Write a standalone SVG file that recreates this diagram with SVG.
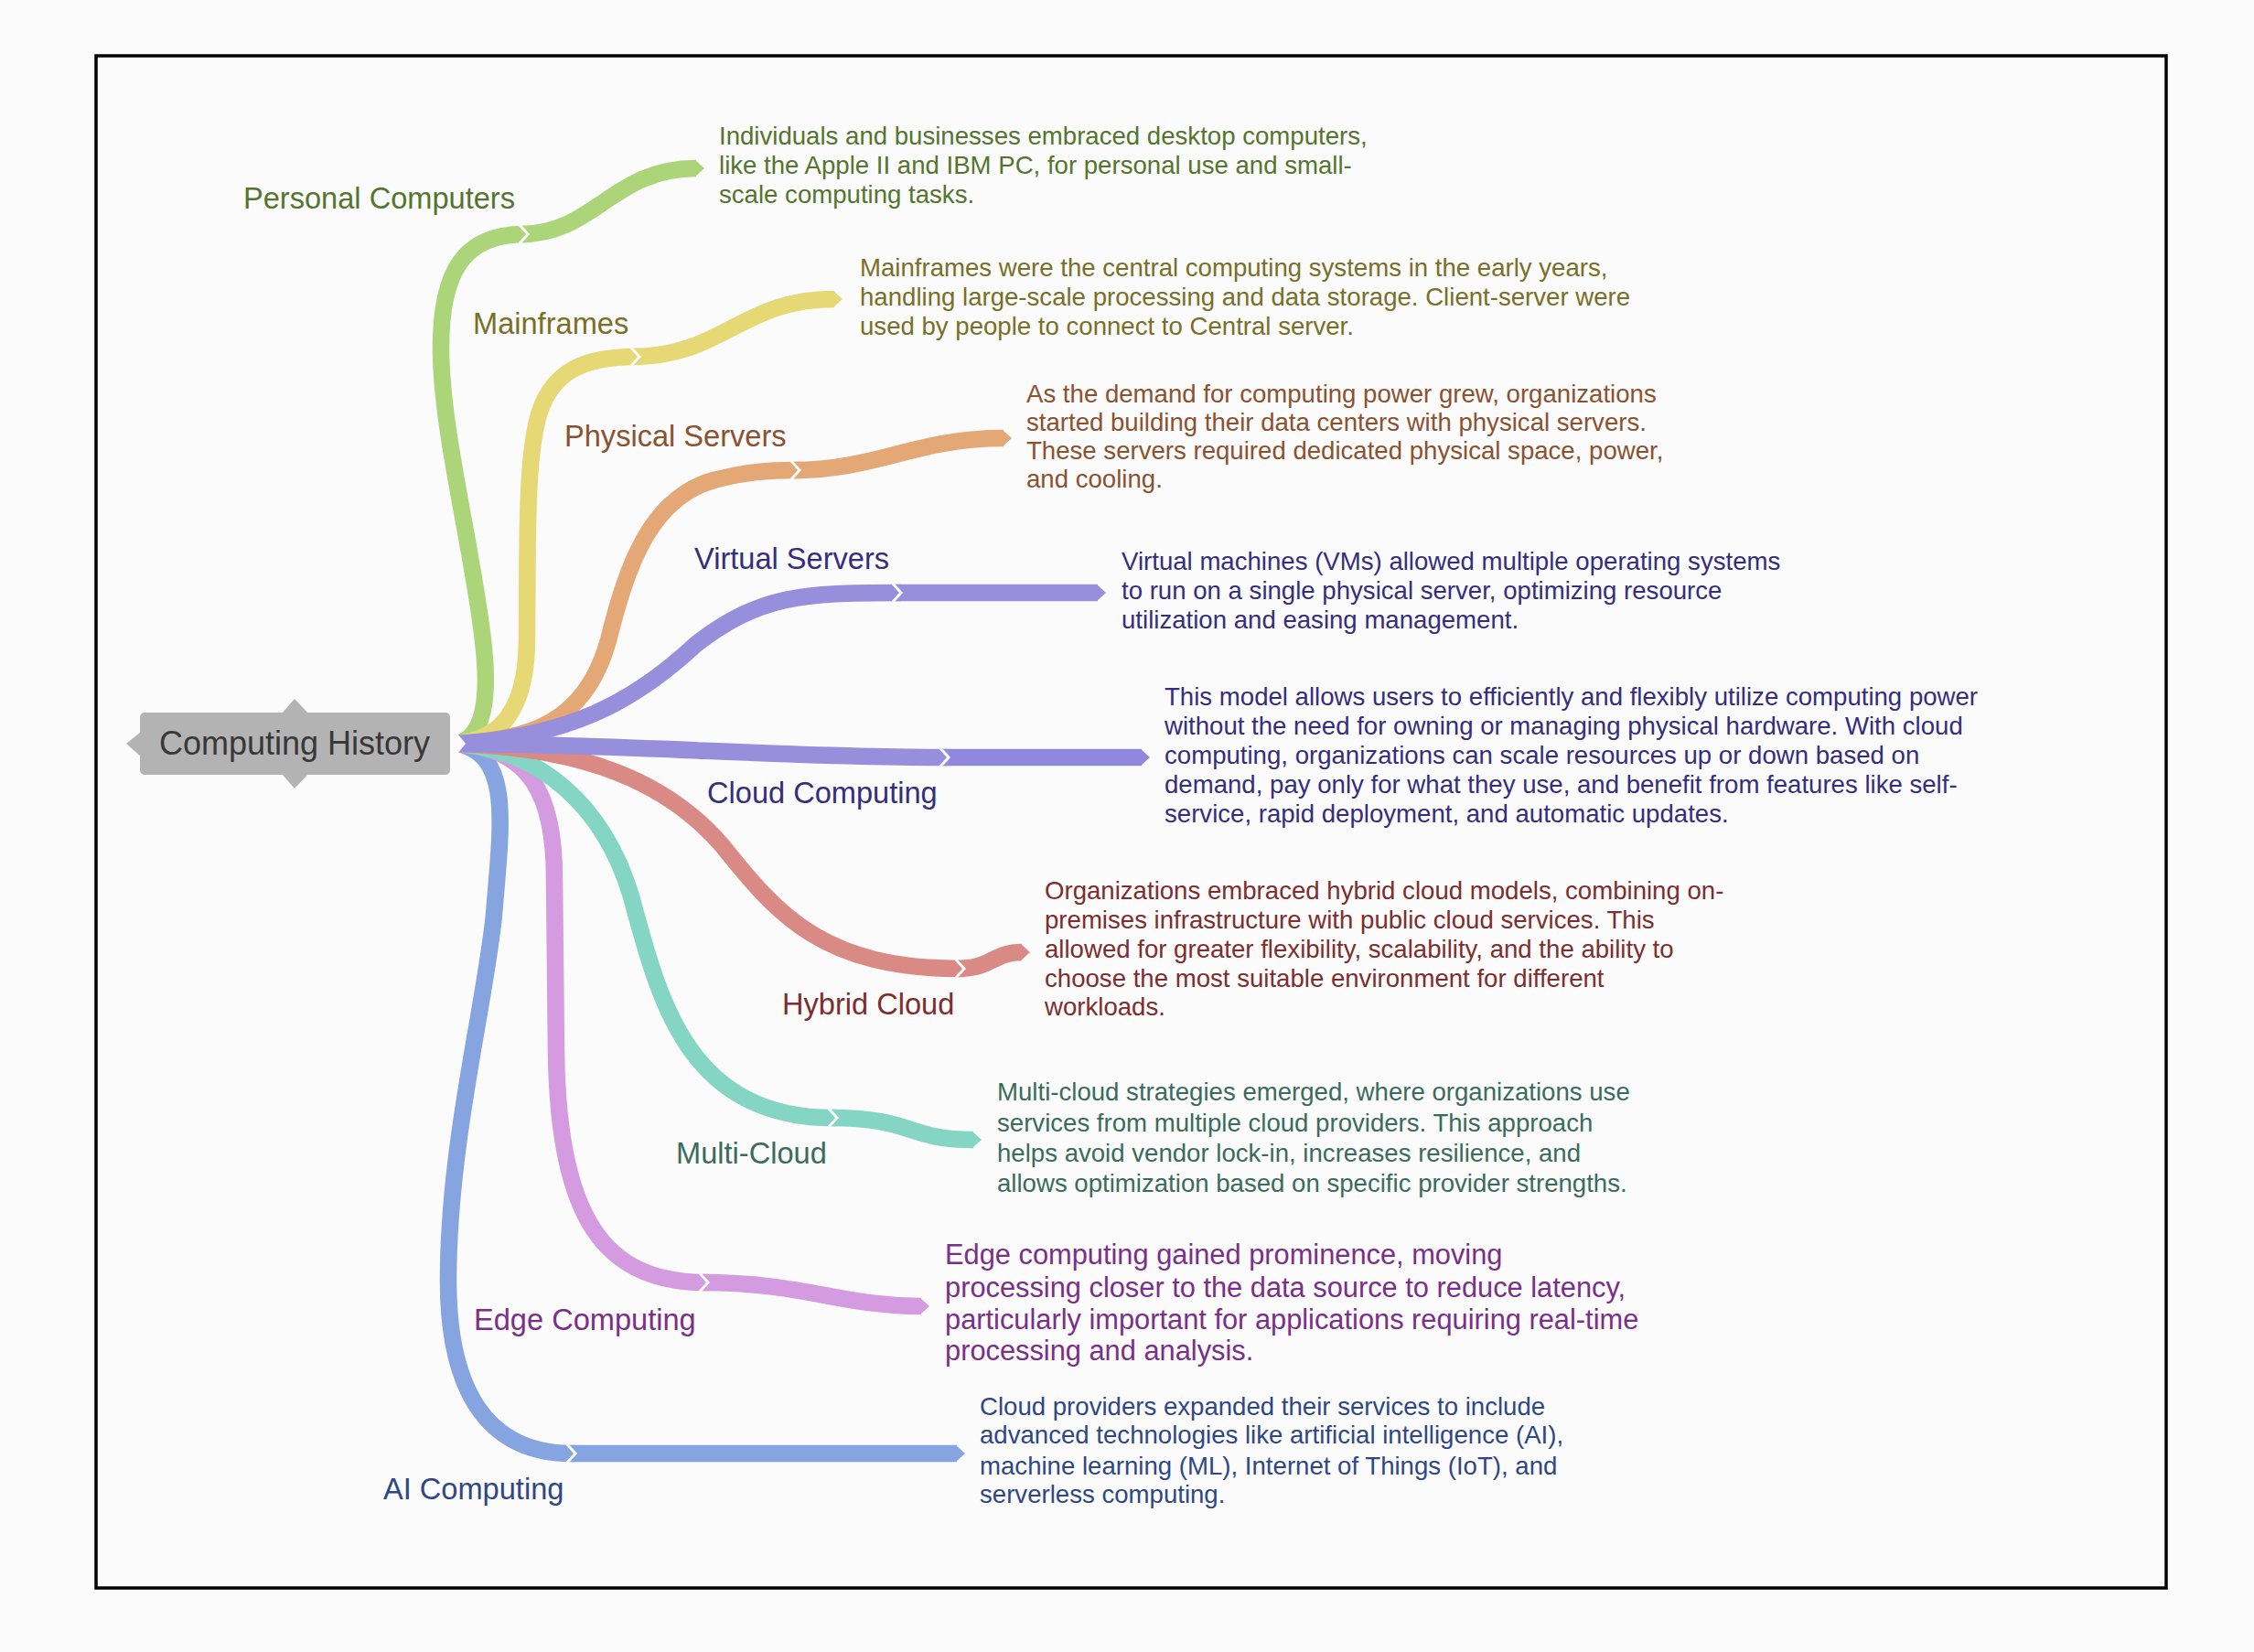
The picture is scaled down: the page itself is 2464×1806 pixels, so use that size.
<svg xmlns="http://www.w3.org/2000/svg" width="2464" height="1806" viewBox="0 0 2464 1806">
<style>
.br{fill:none;stroke-width:18.5;stroke-linecap:butt;stroke-linejoin:round}
.jn{fill:none;stroke:#fbfbfb;stroke-width:3;stroke-linejoin:miter}
.lbl{font-family:"Liberation Sans",Arial,sans-serif;font-size:32.6px}
.dsc{font-family:"Liberation Sans",Arial,sans-serif;font-size:27.6px}
.big{font-family:"Liberation Sans",Arial,sans-serif;font-size:30.8px}
</style>
<rect x="0" y="0" width="2464" height="1806" fill="#fbfbfb"/>
<rect x="105" y="61" width="2263" height="1675" fill="none" stroke="#000" stroke-width="3.5"/>

<g id="connectors">
  <!-- Personal Computers -->
  <path class="br" stroke="#acd57a" d="M 569 256 C 650 256, 670 184, 761 184"/>
  <polygon fill="#acd57a" points="760,175 770,184 760,193"/>
  <path class="br" stroke="#acd57a" d="M 500 813 C 530 805, 535 760, 528 700 C 515 590, 482 470, 482 380 C 482 300, 505 256, 573 256 L 577 256"/>
  <polyline class="jn" points="568,246 577,256 568,266"/>
  <!-- Mainframes -->
  <path class="br" stroke="#e6d874" d="M 691 390 C 790 390, 810 327, 912 327"/>
  <polygon fill="#e6d874" points="911,318 921,327 911,336"/>
  <path class="br" stroke="#e6d874" d="M 500 813 C 545 808, 575 780, 576 700 C 577 600, 574 500, 590 450 C 605 405, 640 390, 695 390 L 699 390"/>
  <polyline class="jn" points="690,380 699,390 690,400"/>
  <!-- Physical Servers -->
  <path class="br" stroke="#e4a877" d="M 866 514 C 960 514, 1000 479, 1097 479"/>
  <polygon fill="#e4a877" points="1096,470 1106,479 1096,488"/>
  <path class="br" stroke="#e4a877" d="M 500 813 C 580 808, 640 790, 665 700 C 685 620, 710 545, 780 525 C 815 516, 840 514, 870 514 L 874 514"/>
  <polyline class="jn" points="865,504 874,514 865,524"/>
  <!-- AI Computing -->
  <path class="br" stroke="#85a4e0" d="M 621 1589 L 1046 1589"/>
  <polygon fill="#85a4e0" points="1045,1580 1055,1589 1045,1598"/>
  <path class="br" stroke="#85a4e0" d="M 500 813 C 560 825, 548 900, 540 1000 C 530 1100, 490 1250, 490 1400 C 490 1530, 540 1589, 625 1589 L 629 1589"/>
  <polyline class="jn" points="620,1579 629,1589 620,1599"/>
  <!-- Edge Computing -->
  <path class="br" stroke="#d59be0" d="M 766 1402 C 880 1402, 920 1428, 1007 1428"/>
  <polygon fill="#d59be0" points="1006,1419 1016,1428 1006,1437"/>
  <path class="br" stroke="#d59be0" d="M 500 813 C 580 818, 606 870, 606 960 L 608 1150 C 610 1330, 660 1402, 770 1402 L 774 1402"/>
  <polyline class="jn" points="765,1392 774,1402 765,1412"/>
  <!-- Multi-Cloud -->
  <path class="br" stroke="#84d5c3" d="M 907 1222 C 1000 1222, 990 1246, 1064 1246"/>
  <polygon fill="#84d5c3" points="1063,1237 1073,1246 1063,1255"/>
  <path class="br" stroke="#84d5c3" d="M 500 813 C 590 820, 660 880, 690 980 C 720 1090, 750 1222, 911 1222 L 915 1222"/>
  <polyline class="jn" points="906,1212 915,1222 906,1232"/>
  <!-- Hybrid Cloud -->
  <path class="br" stroke="#da8a84" d="M 1046 1059 C 1085 1059, 1085 1041, 1117 1041"/>
  <polygon fill="#da8a84" points="1116,1032 1126,1041 1116,1050"/>
  <path class="br" stroke="#da8a84" d="M 500 813 C 640 818, 730 855, 790 925 C 850 1000, 900 1059, 1050 1059 L 1054 1059"/>
  <polyline class="jn" points="1045,1049 1054,1059 1045,1069"/>
  <!-- Virtual Servers -->
  <path class="br" stroke="#978fdc" d="M 977 648 L 1200 648"/>
  <polygon fill="#978fdc" points="1199,639 1209,648 1199,657"/>
  <path class="br" stroke="#978fdc" d="M 500 813 C 620 805, 690 770, 760 705 C 830 650, 880 648, 981 648 L 985 648"/>
  <polyline class="jn" points="976,638 985,648 976,658"/>
  <!-- Cloud Computing -->
  <path class="br" stroke="#8f87db" d="M 1029 828 L 1248 828"/>
  <polygon fill="#8f87db" points="1247,819 1257,828 1247,837"/>
  <path class="br" stroke="#978fdc" d="M 500 813 C 700 814, 850 828, 1033 828 L 1037 828"/>
  <polyline class="jn" points="1028,818 1037,828 1028,838"/>
  <!-- root notch -->
  <polygon fill="#fbfbfb" points="496,797 509,813 496,829"/>
</g>

<g id="root">
  <rect x="153" y="779" width="339" height="68" rx="5" fill="#b3b3b3"/>
  <polygon fill="#b3b3b3" points="308,780 322,764 337,780"/>
  <polygon fill="#b3b3b3" points="308,846 322,862 337,846"/>
  <polygon fill="#b3b3b3" points="154,800 138,813 154,827"/>
  <text x="322" y="825" text-anchor="middle" font-family="Liberation Sans, Arial, sans-serif" font-size="36" fill="#383838">Computing History</text>
</g>

<g id="personal-computers" fill="#55752f">
  <text class="lbl" x="266" y="228">Personal Computers</text>
  <text class="dsc" x="786" y="158">Individuals and businesses embraced desktop computers,</text>
  <text class="dsc" x="786" y="190">like the Apple II and IBM PC, for personal use and small-</text>
  <text class="dsc" x="786" y="222">scale computing tasks.</text>
</g>

<g id="mainframes" fill="#7a6f27">
  <text class="lbl" x="517" y="365">Mainframes</text>
  <text class="dsc" x="940" y="302">Mainframes were the central computing systems in the early years,</text>
  <text class="dsc" x="940" y="334">handling large-scale processing and data storage. Client-server were</text>
  <text class="dsc" x="940" y="366">used by people to connect to Central server.</text>
</g>

<g id="physical-servers" fill="#8a5230">
  <text class="lbl" x="617" y="488">Physical Servers</text>
  <text class="dsc" x="1122" y="440">As the demand for computing power grew, organizations</text>
  <text class="dsc" x="1122" y="471">started building their data centers with physical servers.</text>
  <text class="dsc" x="1122" y="502">These servers required dedicated physical space, power,</text>
  <text class="dsc" x="1122" y="533">and cooling.</text>
</g>

<g id="virtual-servers" fill="#352e7c">
  <text class="lbl" x="759" y="622">Virtual Servers</text>
  <text class="dsc" x="1226" y="623">Virtual machines (VMs) allowed multiple operating systems</text>
  <text class="dsc" x="1226" y="655">to run on a single physical server, optimizing resource</text>
  <text class="dsc" x="1226" y="687">utilization and easing management.</text>
</g>

<g id="cloud-computing" fill="#352e7c">
  <text class="lbl" x="773" y="878">Cloud Computing</text>
  <text class="dsc" x="1273" y="771">This model allows users to efficiently and flexibly utilize computing power</text>
  <text class="dsc" x="1273" y="803">without the need for owning or managing physical hardware. With cloud</text>
  <text class="dsc" x="1273" y="835">computing, organizations can scale resources up or down based on</text>
  <text class="dsc" x="1273" y="867">demand, pay only for what they use, and benefit from features like self-</text>
  <text class="dsc" x="1273" y="899">service, rapid deployment, and automatic updates.</text>
</g>

<g id="hybrid-cloud" fill="#7d2e2e">
  <text class="lbl" x="855" y="1109">Hybrid Cloud</text>
  <text class="dsc" x="1142" y="983">Organizations embraced hybrid cloud models, combining on-</text>
  <text class="dsc" x="1142" y="1015">premises infrastructure with public cloud services. This</text>
  <text class="dsc" x="1142" y="1047">allowed for greater flexibility, scalability, and the ability to</text>
  <text class="dsc" x="1142" y="1079">choose the most suitable environment for different</text>
  <text class="dsc" x="1142" y="1110">workloads.</text>
</g>

<g id="multi-cloud" fill="#3b6b5c">
  <text class="lbl" x="739" y="1272">Multi-Cloud</text>
  <text class="dsc" x="1090" y="1203">Multi-cloud strategies emerged, where organizations use</text>
  <text class="dsc" x="1090" y="1237">services from multiple cloud providers. This approach</text>
  <text class="dsc" x="1090" y="1270">helps avoid vendor lock-in, increases resilience, and</text>
  <text class="dsc" x="1090" y="1303">allows optimization based on specific provider strengths.</text>
</g>

<g id="edge-computing" fill="#7a2f88">
  <text class="lbl" x="518" y="1454">Edge Computing</text>
  <text class="big" x="1033" y="1382">Edge computing gained prominence, moving</text>
  <text class="big" x="1033" y="1418">processing closer to the data source to reduce latency,</text>
  <text class="big" x="1033" y="1453">particularly important for applications requiring real-time</text>
  <text class="big" x="1033" y="1487">processing and analysis.</text>
</g>

<g id="ai-computing" fill="#2f4785">
  <text class="lbl" x="419" y="1639">AI Computing</text>
  <text class="dsc" x="1071" y="1547">Cloud providers expanded their services to include</text>
  <text class="dsc" x="1071" y="1578">advanced technologies like artificial intelligence (AI),</text>
  <text class="dsc" x="1071" y="1612">machine learning (ML), Internet of Things (IoT), and</text>
  <text class="dsc" x="1071" y="1643">serverless computing.</text>
</g>
</svg>
